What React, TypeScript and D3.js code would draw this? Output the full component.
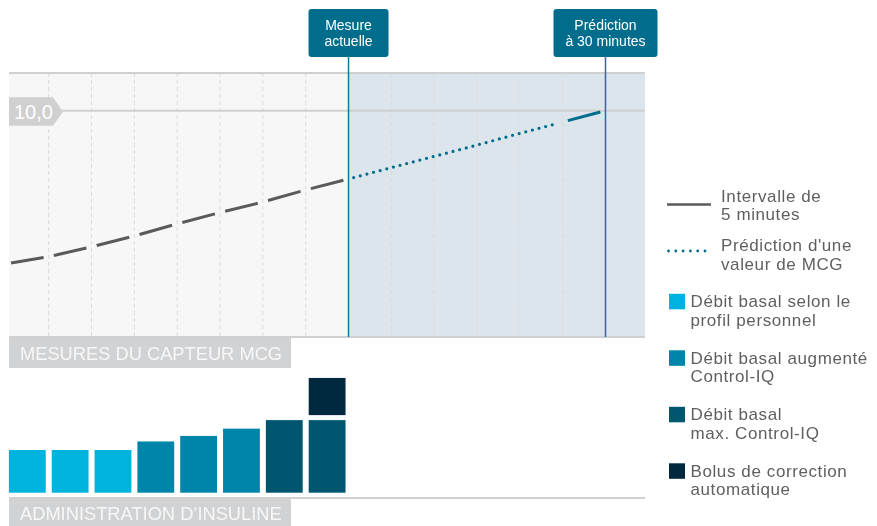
import React from "react";
import * as d3 from "d3";

// ---- data ----
const cgmMinutes = [-40, -35, -30, -25, -20, -15, -10, -5, 0];
const cgmValues = [5.94, 6.13, 6.39, 6.68, 7.0, 7.3, 7.58, 7.9, 8.19];
const predMinutes = [0, 5, 10, 15, 20, 25, 30];
const predValues = [8.19, 8.49, 8.79, 9.09, 9.4, 9.7, 10.0];
const gridMinutes = [-35, -30, -25, -20, -15, -10, -5, 5, 10, 15, 20, 25];
const refValue = 10.0;
const refLabel = "10,0";

const barStarts = [-40, -35, -30, -25, -20, -15, -10, -5];
const basalRates = [1.0, 1.0, 1.0, 1.2, 1.33, 1.5, 1.7, 1.7];
const basalTypes = ["profile", "profile", "profile", "increased", "increased", "increased", "max", "max"];
const bolusStarts = [-5];
const bolusValues = [0.87];

const markers = [
  { minute: 0, lines: ["Mesure", "actuelle"], width: 80 },
  { minute: 30, lines: ["Prédiction", "à 30 minutes"], width: 104 },
];

const legendLines = [
  { kind: "line", lines: ["Intervalle de", "5 minutes"] },
  { kind: "dots", lines: ["Prédiction d'une", "valeur de MCG"] },
];
const legendSquares = [
  { key: "profile", lines: ["Débit basal selon le", "profil personnel"] },
  { key: "increased", lines: ["Débit basal augmenté", "Control-IQ"] },
  { key: "max", lines: ["Débit basal", "max. Control-IQ"] },
  { key: "bolus", lines: ["Bolus de correction", "automatique"] },
];

const colors: Record<string, string> = {
  profile: "#00b2de",
  increased: "#0085aa",
  max: "#00566f",
  bolus: "#00283f",
};

const TEAL = "#006d8d";
const GRAY_LINE = "#5a5a5a";
const LEGEND_TEXT = "#5f5f5f";
const FONT = "'Liberation Sans', Arial, Helvetica, sans-serif";

type Pt = [number, number];
const lerp = (a: Pt, b: Pt, t: number): Pt => [a[0] + (b[0] - a[0]) * t, a[1] + (b[1] - a[1]) * t];

export default function App() {
  const W = 877, H = 526;
  const plotL = 9, plotR = 645, plotT = 73, plotB = 337;
  const x = d3.scaleLinear().domain([-40, 30]).range([5.9, 605.5]);
  const y = d3.scaleLinear().domain([4, 11]).range([plotB, plotT]);
  const barBase = 492.7;
  const bh = d3.scaleLinear().domain([0, 1]).range([0, 42.7]);
  const step = x(5) - x(0);

  const cgmPts: Pt[] = cgmMinutes.map((m, i) => [x(m), y(cgmValues[i])]);
  const predPts: Pt[] = predMinutes.map((m, i) => [x(m), y(predValues[i])]);

  const dashes: JSX.Element[] = [];
  for (let i = 0; i < cgmPts.length - 1; i++) {
    const s = lerp(cgmPts[i], cgmPts[i + 1], 0.12);
    const e = lerp(cgmPts[i], cgmPts[i + 1], 0.88);
    dashes.push(
      <line key={"c" + i} x1={s[0]} y1={s[1]} x2={e[0]} y2={e[1]} stroke={GRAY_LINE} strokeWidth={3} />
    );
  }
  const n = predPts.length;
  const ds = lerp(predPts[0], predPts[1], 0.12);
  const de = lerp(predPts[n - 3], predPts[n - 2], 0.88);
  const dottedPath = d3.line()([ds, ...predPts.slice(1, n - 2), de]);
  const ls = lerp(predPts[n - 2], predPts[n - 1], 0.12);
  const le = lerp(predPts[n - 2], predPts[n - 1], 0.88);

  const yRef = y(refValue);
  const shadeX = x(0);

  const legendX = 667;
  const textX = 721;
  const sqTextX = 690.5;

  return (
    <svg width={W} height={H} style={{ position: "fixed", left: 0, top: 0 }} fontFamily={FONT}>
      <defs>
        <clipPath id="plotclip">
          <rect x={plotL} y={plotT} width={plotR - plotL} height={plotB - plotT} />
        </clipPath>
      </defs>
      {/* plot background */}
      <rect x={plotL} y={plotT} width={plotR - plotL} height={plotB - plotT} fill="#f7f7f7" />
      <rect x={shadeX} y={plotT} width={plotR - shadeX} height={plotB - plotT} fill="#dbe5eb" />
      {/* dashed gridlines */}
      {gridMinutes.map((m) => (
        <line key={m} x1={x(m)} x2={x(m)} y1={plotT} y2={plotB} stroke="#dadada" strokeWidth={1} strokeDasharray="4 3" />
      ))}
      {/* top / bottom / ref lines */}
      <line x1={plotL} x2={plotR} y1={plotT} y2={plotT} stroke="#d0d0d0" strokeWidth={2} />
      <line x1={plotL} x2={plotR} y1={plotB} y2={plotB} stroke="#d0d0d0" strokeWidth={2} />
      <line x1={plotL} x2={plotR} y1={yRef} y2={yRef} stroke="#d0d0d0" strokeWidth={2} />
      {/* ref tag */}
      <path
        d={`M${plotL},${yRef - 13.5} L${plotL + 44},${yRef - 13.5} L${plotL + 54},${yRef + 1} L${plotL + 44},${yRef + 15} L${plotL},${yRef + 15} Z`}
        fill="#d0d0d0"
      />
      <text x={plotL + 5} y={yRef + 8} fill="#ffffff" fontSize={20}>{refLabel}</text>

      {/* marker vertical lines */}
      {markers.map((mk) => (
        <line key={"v" + mk.minute} x1={x(mk.minute)} x2={x(mk.minute)} y1={57} y2={plotB} stroke="#1479a0" strokeWidth={1.5} />
      ))}

      {/* CGM line */}
      <g clipPath="url(#plotclip)">{dashes}</g>
      <path d={dottedPath || ""} fill="none" stroke={TEAL} strokeWidth={3.2} strokeLinecap="round" strokeDasharray="0 6.85" />
      <line x1={ls[0]} y1={ls[1]} x2={le[0]} y2={le[1]} stroke={TEAL} strokeWidth={3} />

      {/* markers */}
      {markers.map((mk) => (
        <g key={"m" + mk.minute}>
          <rect x={x(mk.minute) - mk.width / 2} y={9} width={mk.width} height={48} rx={3} fill={TEAL} />
          {mk.lines.map((t, i) => (
            <text key={i} x={x(mk.minute)} y={30 + i * 15.5} textAnchor="middle" fill="#ffffff" fontSize={14}>{t}</text>
          ))}
        </g>
      ))}

      {/* section label 1 */}
      <rect x={plotL} y={338} width={282} height={30} fill="#d1d2d4" />
      <text x={plotL + 11} y={360} fill="#f7f7f7" fontSize={18.3}>MESURES DU CAPTEUR MCG</text>

      {/* bars */}
      {barStarts.map((m, i) => (
        <rect key={"b" + i} x={x(m) + 3} y={barBase - bh(basalRates[i])} width={step - 6} height={bh(basalRates[i])} fill={colors[basalTypes[i]]} />
      ))}
      {bolusStarts.map((m, i) => {
        const idx = barStarts.indexOf(m);
        const top = barBase - bh(basalRates[idx]) - 5;
        return (
          <rect key={"bo" + i} x={x(m) + 3} y={top - bh(bolusValues[i])} width={step - 6} height={bh(bolusValues[i])} fill={colors.bolus} />
        );
      })}

      {/* section label 2 */}
      <line x1={plotL} x2={plotR} y1={498} y2={498} stroke="#d0d0d0" strokeWidth={2} />
      <rect x={plotL} y={499} width={282} height={27} fill="#d1d2d4" />
      <text x={plotL + 11} y={520} fill="#f7f7f7" fontSize={18.3}>ADMINISTRATION D’INSULINE</text>

      {/* legend */}
      {legendLines.map((lg, i) => {
        const baseY = 201.5 + i * 49.5;
        return (
          <g key={"ll" + i}>
            {lg.kind === "line" ? (
              <line x1={legendX} x2={legendX + 44} y1={baseY + 3} y2={baseY + 3} stroke={GRAY_LINE} strokeWidth={2.5} />
            ) : (
              <line x1={legendX + 1.5} x2={legendX + 40} y1={baseY} y2={baseY} stroke={TEAL} strokeWidth={2.8} strokeLinecap="round" strokeDasharray="0 7.3" />
            )}
            {lg.lines.map((t, j) => (
              <text key={j} x={textX} y={baseY + j * 18.5} fill={LEGEND_TEXT} fontSize={17} letterSpacing={0.6}>{t}</text>
            ))}
          </g>
        );
      })}
      {legendSquares.map((lg, i) => {
        const baseY = 307.3 + i * 56.5;
        return (
          <g key={"ls" + i}>
            <rect x={669} y={baseY - 13.5} width={16} height={15.5} fill={colors[lg.key]} />
            {lg.lines.map((t, j) => (
              <text key={j} x={sqTextX} y={baseY + j * 18.5} fill={LEGEND_TEXT} fontSize={17} letterSpacing={0.6}>{t}</text>
            ))}
          </g>
        );
      })}
    </svg>
  );
}
